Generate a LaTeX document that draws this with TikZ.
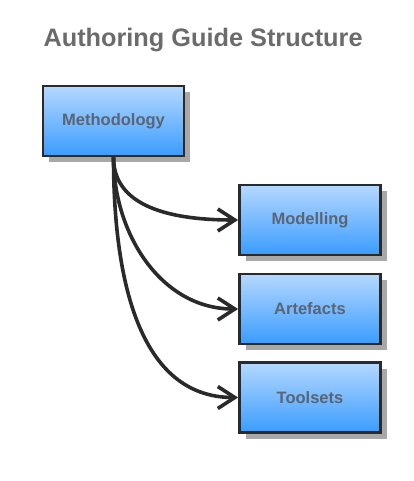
\documentclass[tikz,border=0pt]{standalone}
\usepackage{fontspec}
\setmainfont{Liberation Sans}
\usetikzlibrary{arrows.meta,shadows}
\definecolor{titlegray}{HTML}{6B6B6B}
\definecolor{boxtext}{HTML}{5A6472}
\definecolor{boxtop}{HTML}{B5D8FF}
\definecolor{boxbot}{HTML}{3A9CFF}
\definecolor{edgecol}{HTML}{2A2A2A}
\definecolor{shadowgray}{HTML}{A8A8A8}
\begin{document}
\begin{tikzpicture}[x=1pt,y=-1pt,
  boxnode/.style={draw=edgecol, line width=2.8pt, minimum width=141pt, minimum height=70pt,
    top color=boxtop, bottom color=boxbot, font=\fontsize{16.5}{18}\selectfont\bfseries, text=boxtext,
    drop shadow={shadow xshift=6pt, shadow yshift=-6pt, fill=shadowgray, opacity=1}},
  link/.style={draw=edgecol, line width=3.6pt, -{Straight Barb[length=17pt,width=22pt,line width=3.6pt]}}
]
\useasboundingbox (0,0) rectangle (413,481);
\node[anchor=west, text=titlegray, font=\fontsize{25.3}{28}\selectfont\bfseries] (title) at (40,40) {Authoring Guide Structure};
\node[boxnode] (meth) at (113.5,121) {Methodology};
\node[boxnode] (mod) at (310,220) {Modelling};
\node[boxnode] (art) at (310,309) {Artefacts};
\node[boxnode] (tool) at (310,397.5) {Toolsets};
\draw[link] (meth.south) to[out=-90, in=180, looseness=1.0] (mod.west);
\draw[link] (meth.south) to[out=-90, in=180, looseness=1.0] (art.west);
\draw[link] (meth.south) to[out=-90, in=180, looseness=1.0] (tool.west);
\end{tikzpicture}
\end{document}
